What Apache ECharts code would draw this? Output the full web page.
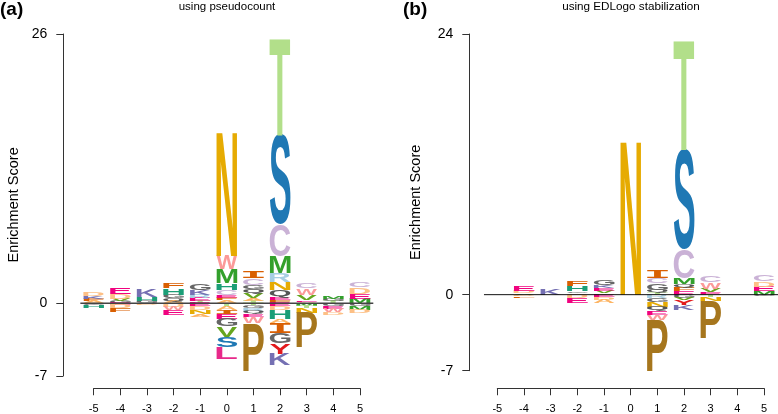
<!DOCTYPE html>
<html><head><meta charset="utf-8">
<script src="https://cdn.jsdelivr.net/npm/echarts@6/dist/echarts.min.js"></script>
<style>html,body{margin:0;padding:0;background:#fff}#c{width:778px;height:414px}</style>
</head><body><div id="c"></div>
<script>
// positions along the sequence
const positions = [-5,-4,-3,-2,-1,0,1,2,3,4,5];
const yTicksA = [-7, 0, 26];
const yTicksB = [-7, 0, 24];

// Panel (a) "using pseudocount": stacks listed from the zero line outward, [letter, height]
const upA = [
  [['A',0.2],['F',0.2],['K',0.27],['D',0.3]],
  [['G',0.2],['V',0.25],['D',0.45],['E',0.55]],
  [['G',0.25],['H',0.33],['K',0.7]],
  [['A',0.2],['Q',0.3],['G',0.34],['H',0.65],['F',0.5]],
  [['T',0.2],['E',0.3],['R',0.3],['K',0.5],['G',0.56]],
  [['A',0.28],['F',0.25],['E',0.25],['C',0.5],['H',0.65],['M',1.35],['W',1.29],['N',12.1]],
  [['T',0.22],['A',0.25],['V',0.48],['Q',0.39],['G',0.42],['C',0.65],['I',0.64]],
  [['F',0.29],['E',0.25],['Q',0.74],['N',0.8],['R',0.87],['M',1.61],['C',3.09],['S',8.59],['T',9.43]],
  [['A',0.14],['E',0.15],['V',0.5],['W',0.65],['C',0.55]],
  [['T',0.22],['G',0.22],['M',0.2]],
  [['M',0.45],['E',0.45],['D',0.65],['C',0.54]]
];
const downA = [
  [['G',0.15],['H',0.3]],
  [['E',0.2],['D',0.3],['F',0.31]],
  [['D',0.15]],
  [['D',0.33],['W',0.33],['E',0.47]],
  [['E',0.3],['D',0.3],['N',0.4],['A',0.29]],
  [['T',0.3],['A',0.35],['I',0.35],['E',0.48],['G',0.74],['V',1.03],['S',0.97],['L',1.12]],
  [['T',0.2],['G',0.3],['R',0.25],['Q',0.3],['E',0.28],['W',0.6],['P',4.67]],
  [['E',0.3],['D',0.35],['H',0.9],['A',0.39],['I',0.97],['G',0.97],['Y',0.97],['K',1.13]],
  [['M',0.25],['T',0.23],['N',0.48],['P',3.35]],
  [['G',0.28],['E',0.28],['W',0.3],['D',0.27]],
  [['G',0.3],['M',0.37],['D',0.3]]
];

// Panel (b) "using EDLogo stabilization"
const upB = [
  [],
  [['V',0.12],['D',0.2],['E',0.44]],
  [['K',0.61]],
  [['A',0.15],['G',0.15],['H',0.46],['F',0.46]],
  [['T',0.15],['V',0.2],['E',0.25],['K',0.25],['G',0.44]],
  [['N',14.2]],
  [['T',0.2],['Q',0.26],['G',0.61],['C',0.46],['I',0.68]],
  [['E',0.3],['F',0.3],['Q',0.35],['M',0.58],['C',2.61],['S',9.21],['T',10.22]],
  [['E',0.2],['V',0.33],['W',0.6],['C',0.56]],
  [],
  [['M',0.3],['E',0.45],['D',0.5],['C',0.59]]
];
const downB = [
  [],
  [['D',0.15],['F',0.16]],
  [],
  [['D',0.35],['E',0.42]],
  [['E',0.25],['D',0.22],['A',0.3]],
  [],
  [['R',0.35],['G',0.3],['N',0.45],['Q',0.45],['E',0.3],['W',0.45],['P',4.8]],
  [['G',0.3],['V',0.18],['Y',0.45],['K',0.45]],
  [['T',0.25],['N',0.35],['P',3.45]],
  [],
  [['G',0.1]]
];

const letterColors = {
  A:'#FDB462', C:'#CAB2D6', D:'#FDC086', E:'#F0027F', F:'#D95F02', G:'#666666',
  H:'#1B9E77', I:'#D95F02', K:'#7570B3', L:'#E7298A', M:'#33A02C', N:'#E6AB02',
  P:'#A6761D', Q:'#555555', R:'#A6CEE3', S:'#1F78B4', T:'#B2DF8A', V:'#66A61E',
  W:'#FB9A99', Y:'#E31A1C'
};

const FF = '"Liberation Sans", Arial, sans-serif';
const FF_SERIF_I = '"DejaVu Sans Mono", monospace';
const FS = 100;
const HALF = 0.39;

const mctx = document.createElement('canvas').getContext('2d');
mctx.textAlign = 'center';
mctx.textBaseline = 'middle';
const metricCache = {};
function fontFor(ch){ return ch === 'I' ? FF_SERIF_I : FF; }
function metrics(ch){
  if (!metricCache[ch]) {
    mctx.font = 'bold ' + FS + 'px ' + fontFor(ch);
    const m = mctx.measureText(ch);
    metricCache[ch] = {
      asc: m.actualBoundingBoxAscent, desc: m.actualBoundingBoxDescent,
      left: m.actualBoundingBoxLeft, right: m.actualBoundingBoxRight
    };
  }
  return metricCache[ch];
}

function buildItems(up, down){
  const items = [];
  positions.forEach((x, i) => {
    let c = 0;
    up[i].forEach(([ch, h]) => { items.push({x, lo:c, hi:c+h, ch}); c += h; });
    c = 0;
    down[i].forEach(([ch, h]) => { items.push({x, lo:c-h, hi:c, ch}); c -= h; });
  });
  return items;
}
const itemsA = buildItems(upA, downA);
const itemsB = buildItems(upB, downB);

function makeRender(items){
  return function(params, api){
    const it = items[params.dataIndex];
    const p0 = api.coord([it.x - HALF, it.hi]);
    const p1 = api.coord([it.x + HALF, it.lo]);
    const W = p1[0] - p0[0], H = p1[1] - p0[1];
    const m = metrics(it.ch);
    const sx = W / (m.left + m.right), sy = H / (m.asc + m.desc);
    return {
      type: 'text',
      x: p0[0] + m.left * sx,
      y: p0[1] + m.asc * sy,
      scaleX: sx, scaleY: sy,
      silent: true,
      style: {
        text: it.ch, x: 0, y: 0,
        fontSize: FS, fontFamily: fontFor(it.ch), fontWeight: 'bold',
        fill: letterColors[it.ch], align: 'center', verticalAlign: 'middle'
      }
    };
  };
}

function yAxisCfg(idx, min, max, ticks, gap){
  return {
    gridIndex: idx, type: 'value', min, max,
    axisLine: {show: true, onZero: false, lineStyle: {color: '#333', width: 1}},
    axisTick: {show: true, length: 7, customValues: ticks, lineStyle: {color: '#333'}},
    axisLabel: {customValues: ticks, fontSize: 14, color: '#000', margin: 16, fontFamily: FF},
    splitLine: {show: false},
    name: 'Enrichment Score', nameLocation: 'middle', nameGap: gap,
    nameTextStyle: {fontSize: 14.5, color: '#000', fontFamily: FF}
  };
}
function xAxisShown(idx){
  return {
    gridIndex: idx, type: 'value', min: -5, max: 5, interval: 1, position: 'bottom',
    axisLine: {show: true, onZero: false, lineStyle: {color: '#333'}},
    axisTick: {show: true, length: 7, lineStyle: {color: '#333'}},
    axisLabel: {fontSize: 11, color: '#000', margin: 15, fontFamily: FF},
    splitLine: {show: false}
  };
}

const chart = echarts.init(document.getElementById('c'), null, {renderer: 'canvas'});
chart.setOption({
  animation: false,
  backgroundColor: '#fff',
  title: [
    {text: '(a)', left: 0, top: 0, textStyle: {fontSize: 19, fontWeight: 'bold', color: '#000', fontFamily: FF}, padding: 0},
    {text: 'using pseudocount', left: 227, top: 1, textAlign: 'center', textStyle: {fontSize: 11.5, fontWeight: 'normal', color: '#000', fontFamily: FF}, padding: 0},
    {text: '(b)', left: 403, top: 0, textStyle: {fontSize: 19, fontWeight: 'bold', color: '#000', fontFamily: FF}, padding: 0},
    {text: 'using EDLogo stabilization', left: 631, top: 1, textAlign: 'center', textStyle: {fontSize: 11.7, fontWeight: 'normal', color: '#000', fontFamily: FF}, padding: 0}
  ],
  grid: [
    {left: 63.3, top: 34, width: 310, height: 341.8},
    {left: 469.3, top: 34, width: 308.7, height: 336.7},
    {left: 93.7, top: 388, width: 266.3, height: 1},
    {left: 497.3, top: 388, width: 266.7, height: 1}
  ],
  xAxis: [
    {gridIndex: 0, type: 'value', min: -6.14, max: 5.5, show: false},
    {gridIndex: 1, type: 'value', min: -6.05, max: 5.52, show: false},
    xAxisShown(2),
    xAxisShown(3)
  ],
  yAxis: [
    yAxisCfg(0, -7, 26, yTicksA, 42),
    yAxisCfg(1, -7, 24, yTicksB, 46),
    {gridIndex: 2, type: 'value', min: 0, max: 1, show: false},
    {gridIndex: 3, type: 'value', min: 0, max: 1, show: false}
  ],
  series: [
    {type: 'custom', xAxisIndex: 0, yAxisIndex: 0, renderItem: makeRender(itemsA),
     data: itemsA.map(d => [d.x, d.lo, d.hi]), encode: {x: 0, y: [1, 2]}, silent: true, z: 2},
    {type: 'custom', xAxisIndex: 1, yAxisIndex: 1, renderItem: makeRender(itemsB),
     data: itemsB.map(d => [d.x, d.lo, d.hi]), encode: {x: 0, y: [1, 2]}, silent: true, z: 2},
    {type: 'line', xAxisIndex: 0, yAxisIndex: 0, data: [[-5.5, 0], [5.5, 0]], symbol: 'none',
     lineStyle: {color: '#444', width: 1.5}, silent: true, z: 5},
    {type: 'line', xAxisIndex: 1, yAxisIndex: 1, data: [[-5.5, 0], [5.52, 0]], symbol: 'none',
     lineStyle: {color: '#111', width: 1}, silent: true, z: 5}
  ]
});
</script>
</body></html>
